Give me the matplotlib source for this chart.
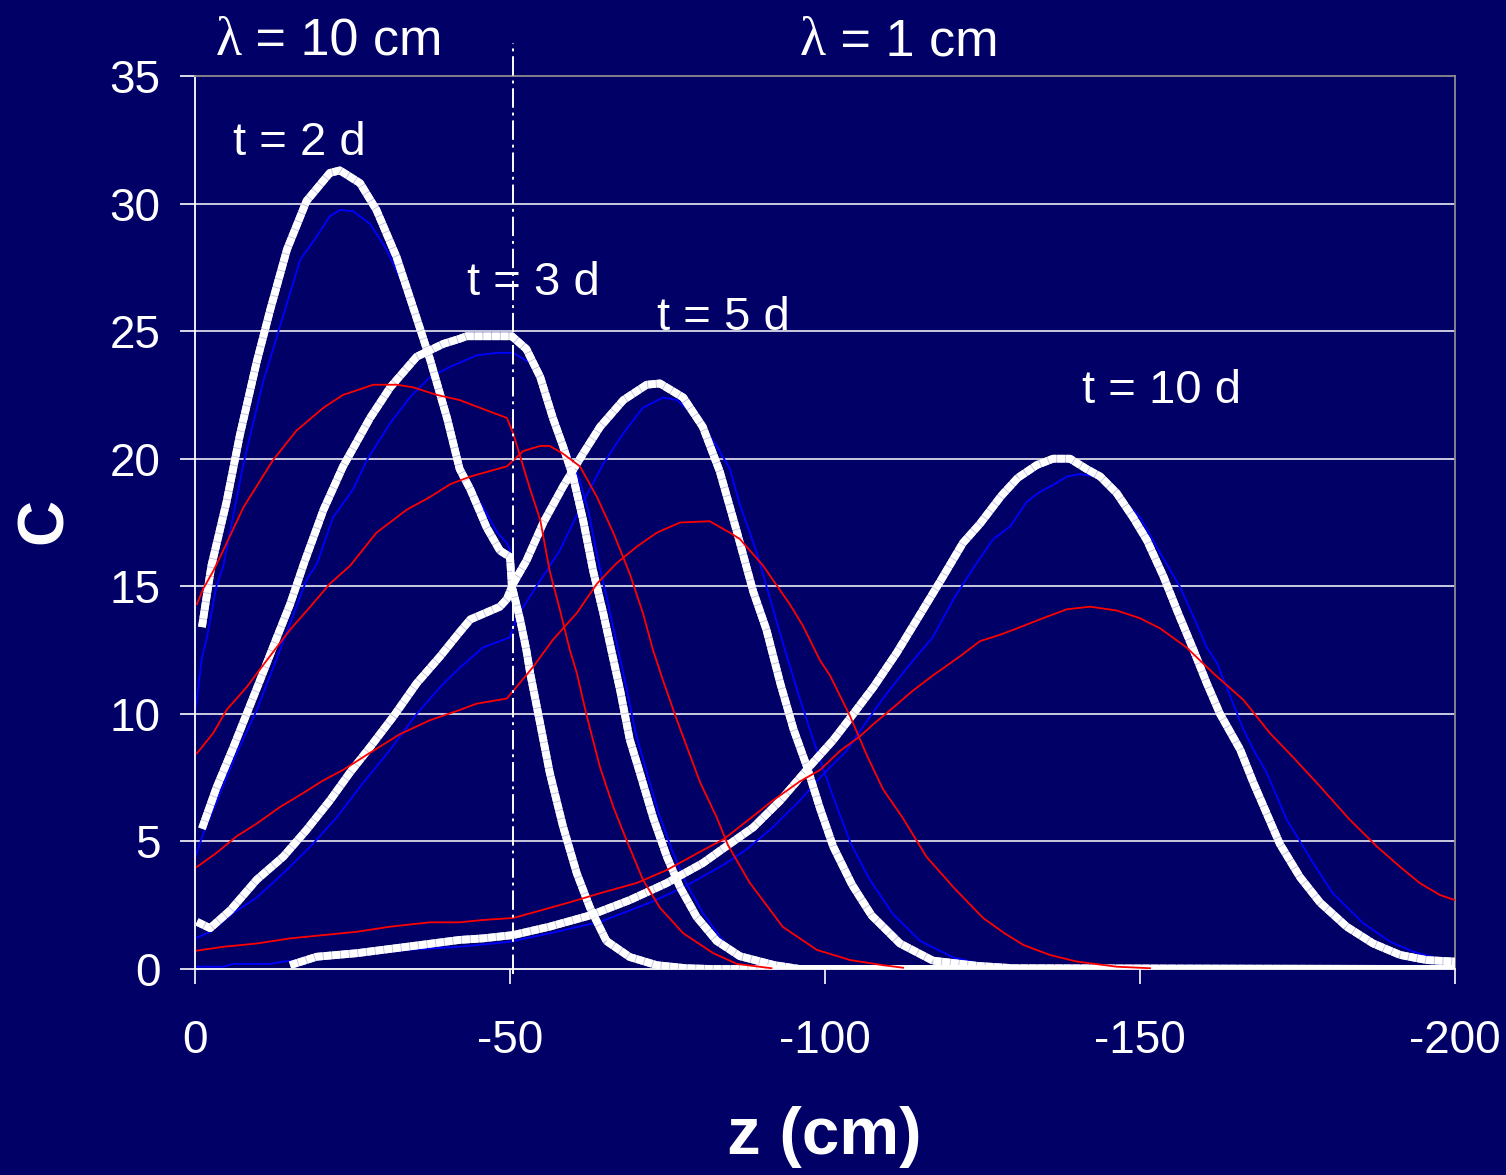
import matplotlib
matplotlib.use("Agg")
import matplotlib.pyplot as plt
import numpy as np

plt.rcParams['font.family'] = ['Liberation Sans', 'DejaVu Sans']

# ---- concentration profiles C(z) at four times ----
# white: analytic solution, blue / red: two numerical schemes
z_w2 = [-1.1, -2.6, -5.0, -7.1, -9.8, -11.9, -14.6, -17.7, -21.4, -23.0, -26.2, -28.8, -32.0, -34.6, -37.3,
        -40.0, -42.0, -43.7, -46.3, -48.4, -50.0, -50.3, -51.6, -52.6, -53.2, -54.8, -56.3, -58.4, -60.6,
        -62.7, -65.3, -69.0, -73.3, -78.0, -82.0, -200.0]
c_w2 = [13.4, 15.8, 18.3, 20.9, 23.8, 25.8, 28.2, 30.1, 31.2, 31.3, 30.8, 29.75, 27.9, 25.95, 23.9,
        21.6, 19.6, 18.8, 17.3, 16.4, 16.15, 15.0, 13.7, 12.5, 11.6, 9.6, 7.7, 5.6, 3.75,
        2.4, 1.1, 0.47, 0.15, 0.03, 0.0, 0.0]

z_b2 = [0.0, -1.1, -1.9, -3.4, -4.5, -7.7, -10.8, -13.5, -16.7, -19.3, -21.4, -23.0, -25.1, -27.8, -30.4,
        -32.5, -34.6, -37.3, -40.0, -42.0, -43.7, -45.7, -48.0, -49.5, -50.0, -50.3, -52.6, -54.8, -56.3,
        -58.4, -60.6, -62.7, -65.3, -69.0, -73.3, -80.0, -200.0]
c_b2 = [10.0, 12.2, 13.0, 15.0, 15.8, 19.8, 23.0, 25.2, 27.8, 28.7, 29.5, 29.75, 29.7, 29.2, 28.2,
        27.1, 25.9, 23.85, 21.55, 19.6, 18.9, 18.1, 17.1, 16.7, 16.4, 15.0, 12.5, 9.6, 7.8,
        5.7, 3.85, 2.5, 1.2, 0.5, 0.15, 0.0, 0.0]

z_r2 = [-0.3, -1.3, -2.9, -3.7, -7.7, -12.4, -16.1, -20.4, -23.5, -28.3, -32.0, -34.6, -38.4, -42.0, -47.3,
        -49.5, -50.5, -53.2, -54.8, -56.3, -57.9, -59.5, -60.6, -62.2, -64.3, -66.4, -68.5, -71.1, -73.8,
        -77.5, -82.2, -86.0, -91.5]
c_r2 = [14.3, 14.9, 15.6, 16.0, 18.1, 19.95, 21.1, 22.0, 22.5, 22.9, 22.9, 22.8, 22.5, 22.3, 21.8,
        21.6, 21.0, 18.8, 17.6, 15.6, 14.1, 12.5, 11.6, 9.9, 7.9, 6.35, 5.05, 3.5, 2.4,
        1.4, 0.63, 0.2, 0.03]

z_w3 = [-1.1, -3.4, -6.1, -8.2, -10.3, -13.0, -15.1, -17.3, -20.4, -23.5, -27.8, -31.0, -35.2, -39.4, -42.0,
        -43.1, -50.3, -52.6, -54.8, -56.8, -58.4, -60.0, -61.6, -63.2, -64.8, -65.9, -67.5, -69.0, -70.6,
        -72.7, -74.9, -77.0, -79.6, -82.8, -86.5, -92.0, -96.0, -200.0]
c_w3 = [5.5, 7.1, 8.7, 10.0, 11.3, 13.0, 14.3, 15.9, 18.0, 19.7, 21.6, 22.8, 24.0, 24.5, 24.7,
        24.8, 24.8, 24.3, 23.2, 21.6, 20.5, 19.3, 17.6, 15.6, 13.95, 12.7, 10.9, 9.0, 7.7,
        5.95, 4.4, 3.2, 2.05, 1.1, 0.5, 0.15, 0.0, 0.0]

z_b3 = [0.0, -1.3, -4.0, -6.6, -9.8, -12.4, -15.1, -17.7, -19.4, -21.9, -25.1, -27.3, -31.0, -34.1, -37.3,
        -40.5, -44.7, -47.9, -50.5, -53.2, -55.5, -57.5, -59.0, -61.0, -62.5, -64.0, -65.5, -67.0, -68.5,
        -70.0, -71.6, -73.6, -75.8, -78.0, -80.6, -83.5, -86.0, -90.0, -95.0, -200.0]
c_b3 = [4.35, 5.3, 6.9, 8.45, 10.15, 11.8, 13.55, 15.25, 15.9, 17.7, 18.8, 19.95, 21.4, 22.4, 23.2,
        23.6, 24.05, 24.15, 24.15, 23.75, 22.8, 21.4, 20.4, 19.2, 17.9, 16.0, 14.4, 12.7, 11.0,
        9.2, 7.8, 6.1, 4.6, 3.35, 2.2, 1.2, 0.5, 0.15, 0.03, 0.0]

z_r3 = [-0.3, -2.9, -5.0, -8.2, -11.4, -15.1, -18.3, -21.4, -24.6, -28.8, -33.6, -37.3, -40.5, -43.7, -47.3,
        -49.5, -52.1, -54.8, -56.3, -58.4, -61.1, -63.8, -66.4, -69.0, -71.1, -72.7, -74.3, -76.5, -80.2,
        -82.8, -84.6, -88.0, -93.3, -98.7, -104.0, -109.2, -112.4]
c_r3 = [8.45, 9.25, 10.15, 11.05, 12.1, 13.3, 14.2, 15.1, 15.8, 17.1, 18.0, 18.5, 19.0, 19.3, 19.55,
        19.7, 20.3, 20.5, 20.5, 20.2, 19.7, 18.5, 17.1, 15.5, 13.95, 12.5, 11.3, 9.75, 7.3,
        5.95, 4.85, 3.4, 1.65, 0.75, 0.35, 0.15, 0.05]

z_w5 = [-0.3, -2.4, -5.6, -9.8, -14.0, -17.7, -21.4, -24.6, -27.8, -31.5, -35.2, -38.9, -42.0, -43.7, -48.4,
        -49.5, -50.5, -52.6, -55.3, -58.4, -61.6, -64.3, -68.0, -71.7, -73.8, -77.5, -80.6, -83.3, -86.0,
        -88.6, -90.7, -92.9, -95.0, -97.1, -99.2, -101.3, -104.3, -107.4, -111.9, -117.1, -124.3, -130.0,
        -200.0]
c_w5 = [1.85, 1.6, 2.3, 3.5, 4.4, 5.45, 6.6, 7.7, 8.7, 9.9, 11.2, 12.25, 13.2, 13.7, 14.2,
        14.5, 15.1, 16.0, 17.5, 18.9, 20.2, 21.25, 22.3, 22.9, 22.95, 22.4, 21.25, 19.5, 17.15,
        14.8, 13.3, 11.2, 9.4, 7.95, 6.3, 4.8, 3.3, 2.1, 1.0, 0.33, 0.12, 0.03,
        0.0]

z_b5 = [0.0, -2.4, -6.1, -9.8, -14.0, -18.7, -22.5, -26.7, -31.0, -35.2, -38.9, -42.0, -45.7, -50.0, -51.1,
        -54.2, -57.9, -61.6, -64.8, -68.0, -71.1, -74.3, -76.5, -79.6, -82.8, -84.9, -86.5, -89.2, -91.3,
        -93.4, -96.0, -98.7, -101.3, -104.0, -107.1, -110.8, -115.1, -120.4, -125.7, -132.0, -200.0]
c_b5 = [1.2, 1.45, 2.2, 2.8, 3.75, 4.9, 5.95, 7.3, 8.6, 10.0, 11.05, 11.8, 12.6, 13.0, 13.8,
        15.0, 16.4, 18.3, 19.8, 21.0, 22.0, 22.4, 22.3, 21.6, 20.5, 19.6, 18.2, 16.3, 14.5,
        12.7, 10.6, 8.55, 6.75, 4.97, 3.5, 2.15, 1.1, 0.45, 0.15, 0.03, 0.0]

z_r5 = [-0.3, -3.4, -6.6, -9.8, -13.5, -17.2, -20.4, -23.5, -27.3, -32.5, -37.3, -42.0, -44.7, -49.5, -53.7,
        -56.8, -60.6, -63.8, -66.9, -70.1, -73.3, -77.0, -81.7, -84.9, -86.5, -90.2, -94.4, -96.5, -99.2,
        -100.8, -104.0, -106.6, -109.2, -112.4, -116.1, -120.4, -125.1, -128.5, -131.5, -135.7, -140.0,
        -146.3, -151.6]
c_r5 = [4.0, 4.55, 5.2, 5.7, 6.35, 6.9, 7.4, 7.8, 8.4, 9.2, 9.75, 10.15, 10.4, 10.6, 11.85,
        12.9, 13.95, 15.1, 15.9, 16.55, 17.1, 17.5, 17.55, 17.1, 16.85, 15.8, 14.3, 13.45, 12.1,
        11.5, 9.9, 8.4, 7.05, 5.9, 4.4, 3.2, 2.0, 1.4, 0.94, 0.55, 0.29,
        0.09, 0.03]

z_w10 = [-15.1, -19.3, -25.7, -33.6, -42.0, -45.7, -50.5, -56.3, -62.7, -69.0, -74.9, -80.6, -84.0, -88.6,
         -92.9, -97.6, -101.3, -104.5, -107.7, -111.4, -115.1, -118.3, -121.9, -124.6, -128.0, -130.6,
         -133.6, -136.2, -138.9, -141.5, -143.7, -146.3, -148.9, -151.1, -153.7, -156.3, -158.5, -160.6,
         -162.7, -165.9, -168.0, -170.1, -172.2, -175.4, -178.6, -182.8, -187.0, -191.3, -195.5, -200.0]
c_w10 = [0.15, 0.48, 0.62, 0.87, 1.14, 1.2, 1.33, 1.66, 2.1, 2.7, 3.37, 4.15, 4.75, 5.55,
         6.6, 7.95, 8.97, 10.0, 11.05, 12.4, 13.9, 15.2, 16.7, 17.45, 18.55, 19.25,
         19.75, 20.0, 20.0, 19.6, 19.3, 18.65, 17.7, 16.8, 15.4, 13.8, 12.5, 11.2,
         10.0, 8.6, 7.3, 6.1, 4.9, 3.6, 2.6, 1.66, 1.0, 0.55, 0.35, 0.29]

z_b10 = [0.0, -4.5, -6.1, -11.9, -14.0, -19.3, -25.7, -33.6, -42.0, -50.0, -56.3, -64.3, -72.2, -77.5,
         -84.0, -87.6, -91.7, -96.0, -99.2, -103.4, -106.6, -109.8, -113.0, -117.1, -120.4, -123.5,
         -126.7, -129.4, -132.0, -134.1, -136.2, -138.4, -140.5, -143.0, -146.3, -150.0, -153.2, -156.3,
         -158.5, -160.6, -162.2, -164.3, -166.4, -168.0, -170.1, -173.3, -177.5, -180.6, -185.4, -189.7,
         -193.4, -198.1, -200.0]
c_b10 = [0.09, 0.09, 0.2, 0.2, 0.29, 0.4, 0.52, 0.75, 0.87, 1.07, 1.4, 1.85, 2.6, 3.2,
         4.1, 4.7, 5.55, 6.6, 7.5, 8.55, 9.7, 10.8, 11.8, 13.0, 14.5, 15.7,
         16.85, 17.35, 18.3, 18.7, 18.97, 19.3, 19.4, 19.3, 18.65, 17.7, 16.3, 15.0,
         13.8, 12.6, 12.0, 10.7, 9.4, 8.6, 7.7, 5.85, 4.15, 2.97, 1.8, 1.07,
         0.68, 0.35, 0.33]

z_r10 = [-0.3, -4.5, -9.8, -15.1, -20.4, -25.7, -31.0, -37.3, -42.0, -45.7, -50.5, -54.2, -59.0, -64.3,
         -70.1, -74.9, -80.2, -84.0, -87.6, -91.7, -96.0, -99.2, -102.4, -105.6, -107.7, -110.8, -113.9,
         -117.1, -121.4, -124.6, -127.8, -131.0, -134.6, -138.4, -142.1, -146.3, -150.0, -153.2, -157.4,
         -161.6, -166.4, -170.6, -174.3, -178.6, -183.3, -187.6, -191.3, -194.4, -197.6, -200.0]
c_r10 = [0.72, 0.87, 1.0, 1.2, 1.33, 1.46, 1.66, 1.83, 1.83, 1.92, 2.0, 2.25, 2.58, 2.97,
         3.37, 3.88, 4.6, 5.1, 5.8, 6.6, 7.35, 7.8, 8.55, 9.13, 9.6, 10.24, 10.9,
         11.5, 12.25, 12.85, 13.1, 13.4, 13.75, 14.1, 14.2, 14.05, 13.75, 13.35, 12.6,
         11.6, 10.55, 9.25, 8.3, 7.15, 5.85, 4.8, 4.0, 3.37, 2.9, 2.7]

x_ticks = [0, -50, -100, -150, -200]
x_tick_labels = ['0', '-50', '-100', '-150', '-200']
y_ticks = [0, 5, 10, 15, 20, 25, 30, 35]
y_tick_labels = ['0', '5', '10', '15', '20', '25', '30', '35']

time_labels = ['t = 2 d', 't = 3 d', 't = 5 d', 't = 10 d']
time_label_pos = [(-6.0, 31.9), (-43.2, 26.4), (-73.3, 25.05), (-140.8, 22.19)]
interface_z = -50.5

BG = '#000066'

fig = plt.figure(figsize=(15.06, 11.75), dpi=100, facecolor=BG)
ax = fig.add_axes([195 / 1506, 1 - 969 / 1175, 1260 / 1506, 893 / 1175])
ax.set_facecolor(BG)

# grid
for y in y_ticks[1:-1]:
    ax.axhline(y, color='white', lw=1.1, zorder=1)

# numerical solutions (blue)
for z, c in [(z_b2, c_b2), (z_b3, c_b3), (z_b5, c_b5), (z_b10, c_b10)]:
    ax.plot(z, c, color='#0000FF', lw=1.3, zorder=2)

# analytic solutions (thick white with fine cross hatching)
for z, c in [(z_w2, c_w2), (z_w3, c_w3), (z_w5, c_w5), (z_w10, c_w10)]:
    ax.plot(z, c, color='#c6c6e2', lw=5.6, solid_capstyle='butt', solid_joinstyle='round', zorder=3)
    ax.plot(z, c, color='white', lw=5.6, dashes=(1.0, 0.12), dash_capstyle='butt',
            dash_joinstyle='round', zorder=3.1)

# numerical solutions (red)
for z, c in [(z_r2, c_r2), (z_r3, c_r3), (z_r5, c_r5), (z_r10, c_r10)]:
    ax.plot(z, c, color='#FF0000', lw=1.3, zorder=4)

# material interface
ax.plot([interface_z, interface_z], [-0.2, 36.3], color='white', lw=1.4,
        dashes=(10, 2.5, 1.5, 2.5), clip_on=False, zorder=5)

ax.set_xlim(0, -200)
ax.set_ylim(0, 35)
ax.set_xticks(x_ticks)
ax.set_xticklabels(x_tick_labels)
ax.set_yticks(y_ticks)
ax.set_yticklabels(y_tick_labels)
ax.tick_params(axis='both', colors='white', labelsize=33, length=11, width=1.2, direction='out')
ax.tick_params(axis='x', pad=25)
ax.tick_params(axis='y', pad=14)

for side in ['left', 'bottom']:
    ax.spines[side].set_color('white')
    ax.spines[side].set_linewidth(1.3)
for side in ['top', 'right']:
    ax.spines[side].set_color('#8c8c8c')
    ax.spines[side].set_linewidth(1.3)

# time labels
for lab, (zx, cy) in zip(time_labels, time_label_pos):
    ax.text(zx, cy, lab, color='white', fontsize=34, ha='left', va='baseline', zorder=6)

# region labels (lambda in a serif face)
for zx, rest in [(-3.2, ' = 10 cm'), (-96.0, ' = 1 cm')]:
    lam = ax.text(zx, 35.83, 'λ', color='white', fontsize=39, family='Liberation Serif',
                  ha='left', va='baseline', clip_on=False)
    ax.annotate(rest, xy=(1.0, 0.0), xycoords=lam, color='white', fontsize=37.5,
                ha='left', va='bottom', annotation_clip=False)

fig.text(45 / 1506, 1 - 521 / 1175, 'C', color='white', fontsize=46, fontweight='bold',
         rotation=90, ha='center', va='center')
fig.text(824 / 1506, 1 - 1137 / 1175, 'z (cm)', color='white', fontsize=48.5, fontweight='bold',
         ha='center', va='center')

fig.savefig('out.png', dpi=100, facecolor=BG)
